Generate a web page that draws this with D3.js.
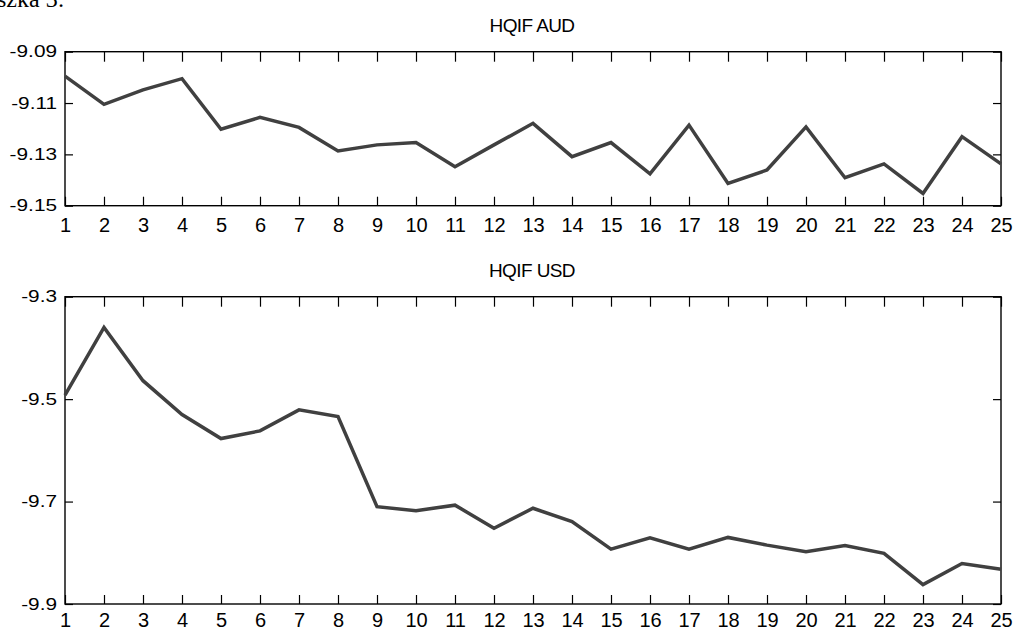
<!DOCTYPE html>
<html>
<head>
<meta charset="utf-8">
<script src="https://cdn.jsdelivr.net/npm/d3@7"></script>
<style>
  body { margin: 0; background: #fff; }
  svg { display: block; font-family: "Liberation Sans", Arial, sans-serif; }
</style>
</head>
<body>
<svg id="chart" width="1014" height="632"></svg>
<script>
// periods on the x axis
const periods = d3.range(1, 26)

// HQIF AUD series
const audValues =
    [ -9.0995, -9.1105, -9.1049, -9.1005, -9.1202, -9.1156, -9.1195, -9.1287
    , -9.1263, -9.1254, -9.1348, -9.1263, -9.1179, -9.1309, -9.1254, -9.1376
    , -9.1186, -9.1413, -9.1361, -9.1193, -9.1391, -9.1337, -9.1452, -9.1231
    , -9.1337 ]

// HQIF USD series
const usdValues =
    [ -9.492, -9.360, -9.464, -9.530, -9.577, -9.562, -9.521, -9.534
    , -9.710, -9.718, -9.707, -9.752, -9.713, -9.739, -9.793, -9.771
    , -9.793, -9.770, -9.785, -9.798, -9.786, -9.801, -9.862, -9.821
    , -9.832 ]

const audTicks = [-9.09, -9.11, -9.13, -9.15]
const usdTicks = [-9.3, -9.5, -9.7, -9.9]

// plain hyphen instead of d3's unicode minus
const hyphen = f => d => f(d).replace('\u2212', '-')

const panels =
    [ { title: 'HQIF AUD', values: audValues, ticks: audTicks, fmt: hyphen(d3.format('.2f')),
        top: 51.7, bottom: 205.7, titleY: 32, pad: 12 }
    , { title: 'HQIF USD', values: usdValues, ticks: usdTicks, fmt: hyphen(d3.format('.1f')),
        top: 296.7, bottom: 604, titleY: 277, pad: 9 }
    ]

const left = 65, right = 1001

const svg = d3.select('#chart')

// cut-off caption at the very top
svg.append('text')
    .attr('x', -3).attr('y', 7)
    .attr('font-family', '"Liberation Serif", "Times New Roman", serif')
    .attr('font-size', 24)
    .text('szka 3:')

const x = d3.scaleLinear().domain([1, 25]).range([left, right])

panels.forEach(p => {
    const y = d3.scaleLinear()
        .domain([d3.min(p.ticks), d3.max(p.ticks)])
        .range([p.bottom, p.top])

    const g = svg.append('g')

    // bottom axis with labels, ticks pointing inwards
    g.append('g')
        .attr('transform', 'translate(0,' + p.bottom + ')')
        .call(d3.axisBottom(x).tickValues(periods).tickFormat(d3.format('d'))
            .tickSize(-9).tickSizeOuter(0).tickPadding(p.pad))
        .call(a => a.select('.domain').remove())
        .call(a => a.selectAll('text').attr('font-size', 20).attr('fill', '#000')
            .attr('font-family', '"Liberation Sans", Arial, sans-serif'))

    // top axis ticks only
    g.append('g')
        .attr('transform', 'translate(0,' + p.top + ')')
        .call(d3.axisTop(x).tickValues(periods).tickFormat('')
            .tickSize(-10).tickSizeOuter(0))
        .call(a => a.select('.domain').remove())

    // left axis with labels
    g.append('g')
        .attr('transform', 'translate(' + left + ',0)')
        .call(d3.axisLeft(y).tickValues(p.ticks).tickFormat(p.fmt)
            .tickSize(-8).tickSizeOuter(0).tickPadding(0))
        .call(a => a.select('.domain').remove())
        .call(a => a.selectAll('text')
            .attr('font-size', 16).attr('fill', '#000')
            .attr('font-family', '"Liberation Sans", Arial, sans-serif')
            .attr('x', -8 / 1.3)
            .attr('transform', 'scale(1.3,1)'))

    // right axis ticks only
    g.append('g')
        .attr('transform', 'translate(' + right + ',0)')
        .call(d3.axisRight(y).tickValues(p.ticks).tickFormat('')
            .tickSize(-8).tickSizeOuter(0))
        .call(a => a.select('.domain').remove())

    g.selectAll('.tick line').attr('stroke', '#000').attr('stroke-width', 1.2)

    // frame
    g.append('rect')
        .attr('x', left).attr('y', p.top)
        .attr('width', right - left).attr('height', p.bottom - p.top)
        .attr('fill', 'none').attr('stroke', '#000').attr('stroke-width', 1.4)

    // series line
    const line = d3.line()
        .x((d, i) => x(periods[i]))
        .y(d => y(d))

    g.append('path')
        .datum(p.values)
        .attr('d', line)
        .attr('fill', 'none')
        .attr('stroke', '#404040')
        .attr('stroke-width', 3.5)
        .attr('stroke-linejoin', 'miter')

    // title
    g.append('text')
        .attr('x', (left + right) / 2 - 1)
        .attr('y', p.titleY)
        .attr('text-anchor', 'middle')
        .attr('font-size', 19)
        .attr('letter-spacing', -0.6)
        .text(p.title)
})
</script>
</body>
</html>
